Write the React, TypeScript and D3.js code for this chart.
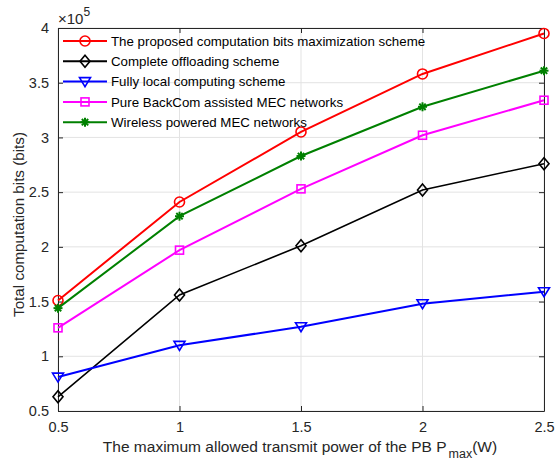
import * as d3 from "d3";
import React, { useEffect, useRef } from "react";

const powers = [0.5, 1, 1.5, 2, 2.5];
const xTicks = [0.5, 1, 1.5, 2, 2.5];
const yTicks = [0.5, 1, 1.5, 2, 2.5, 3, 3.5, 4];

const proposed = [1.51, 2.41, 3.05, 3.58, 3.95];
const offloading = [0.63, 1.56, 2.01, 2.52, 2.76];
const localComp = [0.81, 1.1, 1.27, 1.48, 1.59];
const backcom = [1.26, 1.97, 2.53, 3.02, 3.34];
const wpmec = [1.44, 2.28, 2.83, 3.28, 3.61];

const seriesList = [
  { name: "The proposed computation bits maximization scheme", values: proposed, color: "#ff0000", marker: "circle" },
  { name: "Complete offloading scheme", values: offloading, color: "#000000", marker: "diamond" },
  { name: "Fully local computing scheme", values: localComp, color: "#0000ff", marker: "triangle" },
  { name: "Pure BackCom assisted MEC networks", values: backcom, color: "#ff00ff", marker: "square" },
  { name: "Wireless powered MEC networks", values: wpmec, color: "#008000", marker: "star" },
];

function drawMarker(g: any, kind: string, x: number, y: number, color: string) {
  if (kind === "circle") {
    g.append("circle").attr("cx", x).attr("cy", y).attr("r", 5).attr("fill", "none").attr("stroke", color).attr("stroke-width", 1.6);
  } else if (kind === "diamond") {
    g.append("path").attr("d", `M${x},${y - 6}L${x + 5},${y}L${x},${y + 6}L${x - 5},${y}Z`).attr("fill", "none").attr("stroke", color).attr("stroke-width", 1.6);
  } else if (kind === "triangle") {
    g.append("path").attr("d", `M${x - 5.5},${y - 4}L${x + 5.5},${y - 4}L${x},${y + 5}Z`).attr("fill", "none").attr("stroke", color).attr("stroke-width", 1.6);
  } else if (kind === "square") {
    g.append("rect").attr("x", x - 4).attr("y", y - 4).attr("width", 8).attr("height", 8).attr("fill", "none").attr("stroke", color).attr("stroke-width", 1.6);
  } else {
    const r = 4.5;
    for (let i = 0; i < 4; i++) {
      const a = (i * Math.PI) / 4;
      g.append("line")
        .attr("x1", x - r * Math.cos(a)).attr("y1", y - r * Math.sin(a))
        .attr("x2", x + r * Math.cos(a)).attr("y2", y + r * Math.sin(a))
        .attr("stroke", color).attr("stroke-width", 2);
    }
  }
}

export default function App() {
  const ref = useRef<SVGSVGElement>(null);

  useEffect(() => {
    const svg = d3.select(ref.current);
    svg.selectAll("*").remove();

    const left = 58, right = 544, top = 28, bottom = 411;
    const font = "Helvetica, Arial, 'Liberation Sans', sans-serif";
    const textColor = "#262626";

    const x = d3.scaleLinear().domain([0.5, 2.5]).range([left, right]);
    const y = d3.scaleLinear().domain([0.5, 4]).range([bottom, top]);

    svg.append("rect").attr("width", 555).attr("height", 462).attr("fill", "#fff");

    // grid
    const grid = svg.append("g").attr("stroke", "#e3e3e3").attr("stroke-width", 1);
    xTicks.forEach(t => grid.append("line").attr("x1", x(t)).attr("x2", x(t)).attr("y1", top).attr("y2", bottom));
    yTicks.forEach(t => grid.append("line").attr("x1", left).attr("x2", right).attr("y1", y(t)).attr("y2", y(t)));

    // axes
    svg.append("g").attr("transform", `translate(0,${bottom})`)
      .call(d3.axisBottom(x).tickValues(xTicks).tickSizeInner(-5).tickSizeOuter(0).tickPadding(11).tickFormat(d3.format("")) as any);
    svg.append("g").attr("transform", `translate(0,${top})`)
      .call(d3.axisTop(x).tickValues(xTicks).tickSizeInner(-5).tickSizeOuter(0).tickFormat(() => "") as any);
    svg.append("g").attr("transform", `translate(${left},0)`)
      .call(d3.axisLeft(y).tickValues(yTicks).tickSizeInner(-5).tickSizeOuter(0).tickPadding(9).tickFormat(d3.format("")) as any);
    svg.append("g").attr("transform", `translate(${right},0)`)
      .call(d3.axisRight(y).tickValues(yTicks).tickSizeInner(-5).tickSizeOuter(0).tickFormat(() => "") as any);

    svg.selectAll(".domain").attr("stroke", "#262626").attr("stroke-width", 1);
    svg.selectAll(".tick line").attr("stroke", "#262626");
    svg.selectAll(".tick text").attr("fill", textColor).style("font-family", font).style("font-size", "14.5px");

    // series
    const line = d3.line<number>().x((_, i) => x(powers[i])).y(d => y(d));
    seriesList.forEach(s => {
      svg.append("path").datum(s.values).attr("d", line).attr("fill", "none")
        .attr("stroke", s.color).attr("stroke-width", s.color === "#000000" ? 1.6 : 2);
      const mg = svg.append("g");
      s.values.forEach((v, i) => drawMarker(mg, s.marker, x(powers[i]), y(v), s.color));
    });

    // legend
    const lg = svg.append("g");
    seriesList.forEach((s, i) => {
      const ly = 41 + i * 20.3;
      lg.append("line").attr("x1", 63).attr("x2", 107).attr("y1", ly).attr("y2", ly)
        .attr("stroke", s.color).attr("stroke-width", 2);
      drawMarker(lg, s.marker, 85, ly, s.color);
      lg.append("text").attr("x", 111).attr("y", ly + 4.8).attr("fill", "#000")
        .style("font-family", font).style("font-size", "13.3px").text(s.name);
    });

    // exponent
    const ex = svg.append("text").attr("x", 58).attr("y", 24).attr("fill", textColor)
      .style("font-family", font).style("font-size", "15px");
    ex.append("tspan").text("\u00d710");
    ex.append("tspan").attr("dy", -8).style("font-size", "12px").text("5");

    // axis labels
    svg.append("text").attr("transform", `translate(24,${(top + bottom) / 2 + 5}) rotate(-90)`)
      .attr("text-anchor", "middle").attr("fill", textColor)
      .style("font-family", font).style("font-size", "15.2px").text("Total computation bits (bits)");

    const xl = svg.append("text").attr("x", 300).attr("y", 452)
      .attr("text-anchor", "middle").attr("fill", textColor)
      .style("font-family", font).style("font-size", "15.5px");
    xl.append("tspan").text("The maximum allowed transmit power of the PB P");
    xl.append("tspan").attr("dy", 6).attr("dx", 2).style("font-size", "12.5px").text("max");
    xl.append("tspan").attr("dy", -6).text("(W)");
  }, []);

  return <svg ref={ref} width={555} height={462} style={{ display: "block", position: "absolute", left: 0, top: 0 }} />;
}
